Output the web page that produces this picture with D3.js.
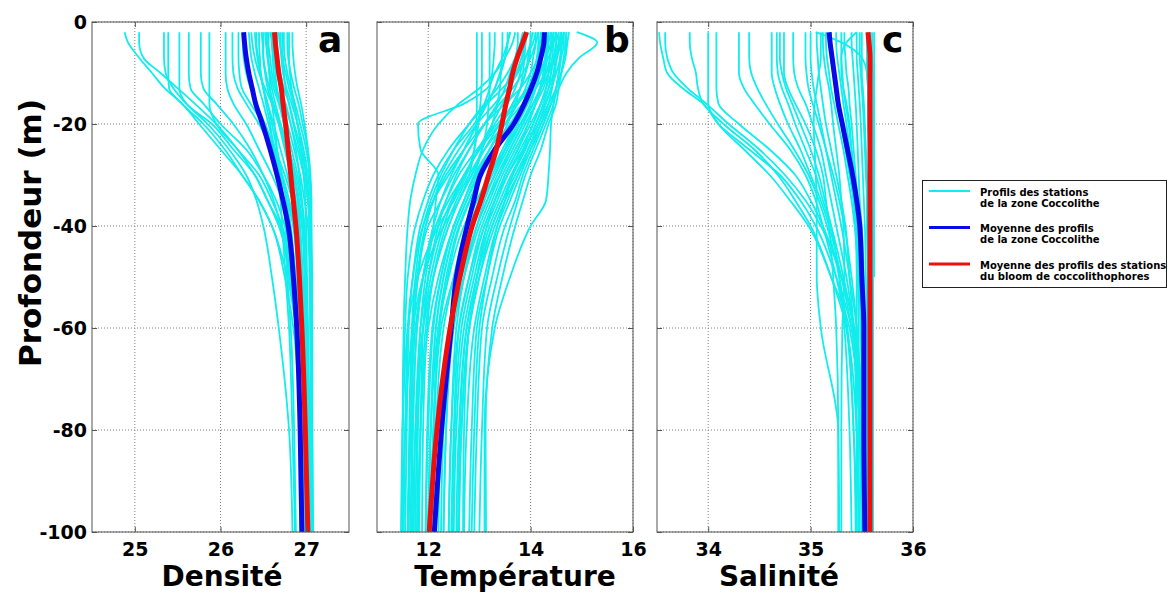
<!DOCTYPE html>
<html>
<head>
<meta charset="utf-8">
<script src="https://d3js.org/d3.v7.min.js"></script>
<style>
body { margin: 0; background: #fff; }
svg { display: block; }
text { font-family: "DejaVu Sans", sans-serif; font-weight: bold; fill: #000; }
</style>
</head>
<body>
<script>
// profondeurs communes a tous les profils (m)
var depths = [-2, -4, -7, -10, -13, -16, -20, -25, -30, -35, -40, -50, -60, -80, -100];
var depthTicks = [0, -20, -40, -60, -80, -100];

var densityTicks = [25, 26, 27];
var tempTicks = [12, 14, 16];
var salTicks = [34, 35, 36];

// densite : profils des stations de la zone Coccolithe
var densityProfiles = [
	[24.88, 24.92, 25.05, 25.2, 25.35, 25.55, 25.75, 26.0, 26.25, 26.45, 26.6, 26.78, 26.88, 26.95, 26.98],
	[25.05, 25.05, 25.1, 25.3, 25.5, 25.7, 25.95, 26.2, 26.4, 26.55, 26.7, 26.82, 26.9, 26.96, 27.0],
	[25.34, 25.34, 25.34, 25.36, 25.45, 25.6, 25.85, 26.1, 26.3, 26.42, 26.5, 26.6, 26.68, 26.8, 26.84],
	[25.39, 25.39, 25.39, 25.39, 25.4, 25.55, 25.8, 26.05, 26.25, 26.45, 26.6, 26.75, 26.85, 26.93, 26.97],
	[25.52, 25.52, 25.52, 25.52, 25.52, 25.6, 25.9, 26.15, 26.4, 26.55, 26.68, 26.82, 26.9, 26.97, 27.0],
	[25.63, 25.63, 25.63, 25.63, 25.65, 25.8, 26.0, 26.3, 26.5, 26.65, 26.75, 26.85, 26.92, 26.98, 27.01],
	[25.77, 25.77, 25.77, 25.77, 25.8, 25.95, 26.15, 26.35, 26.5, 26.62, 26.7, 26.8, 26.88, 26.95, 26.98],
	[25.87, 25.87, 25.87, 25.87, 25.87, 25.87, 25.95, 26.2, 26.45, 26.6, 26.72, 26.84, 26.9, 26.96, 26.99],
	[26.06, 26.06, 26.06, 26.06, 26.08, 26.15, 26.3, 26.45, 26.6, 26.72, 26.8, 26.88, 26.93, 26.98, 27.01],
	[26.14, 26.14, 26.14, 26.15, 26.2, 26.3, 26.45, 26.6, 26.7, 26.78, 26.85, 26.92, 26.96, 27.0, 27.02],
	[26.21, 26.21, 26.21, 26.22, 26.25, 26.35, 26.5, 26.62, 26.72, 26.8, 26.87, 26.93, 26.97, 27.0, 27.03],
	[26.33, 26.34, 26.36, 26.4, 26.45, 26.5, 26.56, 26.64, 26.72, 26.8, 26.85, 26.9, 26.93, 26.96, 26.98],
	[26.42, 26.42, 26.44, 26.47, 26.5, 26.55, 26.62, 26.7, 26.78, 26.84, 26.88, 26.92, 26.95, 26.98, 27.0],
	[26.48, 26.49, 26.5, 26.53, 26.57, 26.62, 26.68, 26.75, 26.82, 26.88, 26.92, 26.95, 26.97, 27.0, 27.02],
	[26.52, 26.53, 26.55, 26.58, 26.62, 26.68, 26.74, 26.8, 26.86, 26.91, 26.95, 26.98, 27.0, 27.02, 27.03],
	[26.56, 26.56, 26.58, 26.6, 26.64, 26.7, 26.76, 26.83, 26.9, 26.95, 26.98, 27.0, 27.02, 27.04, 27.05],
	[26.6, 26.6, 26.61, 26.62, 26.65, 26.7, 26.78, 26.86, 26.93, 26.98, 27.02, 27.04, 27.05, 27.06, 27.07],
	[26.63, 26.63, 26.64, 26.66, 26.7, 26.75, 26.82, 26.9, 26.97, 27.02, 27.04, 27.05, 27.06, 27.07, 27.07],
	[26.66, 26.66, 26.67, 26.7, 26.74, 26.8, 26.86, 26.94, 27.0, 27.03, 27.05, 27.06, 27.06, 27.07, 27.07],
	[26.7, 26.7, 26.71, 26.73, 26.77, 26.83, 26.9, 26.97, 27.02, 27.05, 27.06, 27.06, 27.07, 27.07, 27.08],
	[26.74, 26.74, 26.75, 26.78, 26.82, 26.87, 26.93, 27.0, 27.04, 27.06, 27.06, 27.07, 27.07, 27.07, 27.08],
	[26.78, 26.78, 26.79, 26.82, 26.86, 26.91, 26.96, 27.02, 27.05, 27.06, 27.06, 27.06, 27.07, 27.07, 27.07],
	[26.84, 26.84, 26.85, 26.87, 26.9, 26.94, 26.98, 27.02, 27.04, 27.05, 27.05, 27.05, 27.05, 27.06, 27.06],
	[26.45, 26.45, 26.46, 26.47, 26.5, 26.53, 26.58, 26.62, 26.66, 26.7, 26.72, 26.76, 26.8, 26.84, 26.87],
	[26.55, 26.55, 26.56, 26.57, 26.58, 26.6, 26.63, 26.66, 26.7, 26.73, 26.76, 26.78, 26.82, 26.86, 26.88],
	[26.58, 26.6, 26.62, 26.66, 26.7, 26.76, 26.82, 26.88, 26.92, 26.95, 26.97, 26.99, 27.0, 27.01, 27.02],
	[26.68, 26.69, 26.72, 26.76, 26.8, 26.85, 26.9, 26.94, 26.97, 26.99, 27.0, 27.01, 27.02, 27.03, 27.04],
	[26.36, 26.37, 26.4, 26.45, 26.52, 26.6, 26.7, 26.8, 26.88, 26.94, 26.98, 27.0, 27.01, 27.02, 27.03],
	[26.5, 26.5, 26.5, 26.52, 26.55, 26.6, 26.68, 26.78, 26.86, 26.92, 26.96, 26.99, 27.01, 27.03, 27.04],
	[26.62, 26.62, 26.63, 26.64, 26.66, 26.7, 26.74, 26.8, 26.85, 26.9, 26.93, 26.96, 26.98, 27.0, 27.01],
	[26.72, 26.72, 26.73, 26.74, 26.76, 26.8, 26.85, 26.92, 26.98, 27.02, 27.04, 27.05, 27.06, 27.06, 27.06],
	[26.8, 26.8, 26.8, 26.81, 26.83, 26.86, 26.9, 26.96, 27.0, 27.03, 27.04, 27.05, 27.05, 27.06, 27.06],
	[26.4, 26.41, 26.43, 26.46, 26.5, 26.55, 26.6, 26.66, 26.72, 26.77, 26.82, 26.87, 26.9, 26.92, 26.93],
	[26.54, 26.54, 26.55, 26.57, 26.6, 26.64, 26.7, 26.76, 26.82, 26.87, 26.9, 26.93, 26.95, 26.97, 26.98],
	[26.26, 26.26, 26.27, 26.3, 26.35, 26.42, 26.52, 26.64, 26.75, 26.84, 26.9, 26.96, 27.0, 27.03, 27.05]
];
var densityMeanZone = [26.27, 26.28, 26.3, 26.33, 26.37, 26.41, 26.49, 26.58, 26.66, 26.73, 26.79, 26.85, 26.89, 26.93, 26.95];
var densityMeanBloom = [26.63, 26.64, 26.66, 26.68, 26.71, 26.73, 26.76, 26.79, 26.82, 26.85, 26.88, 26.92, 26.95, 26.99, 27.02];

// temperature : profils des stations de la zone Coccolithe
var tempProfiles = [
	[12.95, 12.95, 12.95, 12.95, 12.95, 12.95, 12.94, 12.9, 12.8, 12.6, 12.3, 11.9, 11.7, 11.55, 11.5],
	[13.05, 13.05, 13.05, 13.05, 13.04, 13.02, 12.98, 12.9, 12.75, 12.5, 12.2, 11.8, 11.6, 11.5, 11.47],
	[13.3, 13.3, 13.28, 13.25, 13.2, 13.1, 12.95, 12.7, 12.4, 12.1, 11.9, 11.7, 11.6, 11.55, 11.52],
	[13.6, 13.55, 13.5, 13.4, 13.3, 13.15, 12.9, 12.5, 12.2, 12.0, 11.85, 11.7, 11.62, 11.58, 11.55],
	[13.75, 13.75, 13.7, 13.6, 13.5, 13.35, 13.1, 12.8, 12.5, 12.25, 12.0, 11.8, 11.7, 11.65, 11.6],
	[13.9, 13.88, 13.85, 13.8, 13.7, 13.55, 13.3, 13.0, 12.7, 12.4, 12.15, 11.9, 11.78, 11.7, 11.65],
	[14.0, 14.0, 13.95, 13.9, 13.8, 13.65, 13.4, 13.1, 12.85, 12.6, 12.4, 12.1, 11.95, 11.85, 11.8],
	[14.1, 14.1, 14.05, 14.0, 13.9, 13.75, 13.5, 13.2, 12.9, 12.7, 12.5, 12.25, 12.1, 12.0, 11.95],
	[14.15, 14.15, 14.12, 14.05, 13.95, 13.85, 13.65, 13.35, 13.05, 12.8, 12.6, 12.35, 12.2, 12.1, 12.05],
	[14.2, 14.2, 14.18, 14.15, 14.05, 13.9, 13.7, 13.45, 13.2, 12.95, 12.75, 12.5, 12.3, 12.15, 12.1],
	[14.25, 14.25, 14.22, 14.18, 14.1, 14.0, 13.8, 13.55, 13.3, 13.05, 12.85, 12.6, 12.4, 12.25, 12.2],
	[14.3, 14.3, 14.28, 14.25, 14.18, 14.05, 13.85, 13.6, 13.35, 13.15, 12.95, 12.7, 12.5, 12.35, 12.3],
	[14.35, 14.35, 14.32, 14.28, 14.2, 14.1, 13.95, 13.7, 13.45, 13.25, 13.05, 12.8, 12.6, 12.45, 12.4],
	[14.4, 14.4, 14.38, 14.35, 14.3, 14.2, 14.05, 13.8, 13.55, 13.35, 13.15, 12.9, 12.7, 12.55, 12.5],
	[14.45, 14.45, 14.42, 14.4, 14.35, 14.25, 14.1, 13.9, 13.65, 13.45, 13.25, 13.0, 12.8, 12.65, 12.6],
	[14.5, 14.5, 14.48, 14.45, 14.4, 14.3, 14.15, 13.95, 13.75, 13.55, 13.35, 13.1, 12.9, 12.75, 12.7],
	[14.55, 14.55, 14.5, 14.48, 14.42, 14.35, 14.2, 14.0, 13.8, 13.6, 13.4, 13.15, 12.95, 12.85, 12.8],
	[14.6, 14.6, 14.58, 14.55, 14.5, 14.4, 14.25, 14.05, 13.85, 13.7, 13.5, 13.25, 13.05, 12.95, 12.9],
	[14.65, 14.65, 14.6, 14.55, 14.5, 14.45, 14.3, 14.1, 13.9, 13.75, 13.6, 13.35, 13.15, 13.05, 13.0],
	[14.7, 14.68, 14.65, 14.6, 14.55, 14.5, 14.35, 14.2, 14.0, 13.85, 13.7, 13.45, 13.25, 13.12, 13.13],
	[14.9, 15.3, 14.95, 14.7, 14.55, 14.4, 14.2, 13.95, 13.7, 13.45, 13.25, 12.95, 12.75, 12.6, 12.55],
	[13.6, 13.55, 13.45, 13.3, 13.15, 12.7, 11.8, 11.85, 12.2, 12.15, 12.1, 11.9, 11.75, 11.65, 11.6],
	[14.1, 14.05, 13.9, 13.7, 13.45, 13.15, 12.8, 12.4, 12.1, 11.9, 11.75, 11.6, 11.55, 11.5, 11.48],
	[14.3, 14.25, 14.15, 14.0, 13.8, 13.5, 13.1, 12.7, 12.35, 12.1, 11.95, 11.78, 11.7, 11.65, 11.62],
	[13.85, 13.8, 13.7, 13.55, 13.35, 13.1, 12.8, 12.5, 12.25, 12.05, 11.9, 11.75, 11.68, 11.63, 11.6],
	[14.45, 14.4, 14.3, 14.15, 13.95, 13.7, 13.35, 12.95, 12.6, 12.35, 12.15, 11.95, 11.85, 11.78, 11.75],
	[14.6, 14.55, 14.45, 14.3, 14.1, 13.85, 13.5, 13.1, 12.8, 12.55, 12.35, 12.1, 11.98, 11.9, 11.88],
	[14.0, 14.0, 13.98, 13.9, 13.8, 13.65, 13.45, 13.2, 12.95, 12.75, 12.55, 12.3, 12.15, 12.05, 12.0],
	[14.25, 14.22, 14.2, 14.15, 14.05, 13.9, 13.7, 13.5, 13.3, 13.1, 12.95, 12.7, 12.55, 12.45, 12.4],
	[14.5, 14.5, 14.45, 14.4, 14.3, 14.2, 14.05, 13.85, 13.65, 13.5, 13.35, 13.15, 13.0, 12.9, 12.85],
	[14.6, 14.6, 14.58, 14.55, 14.5, 14.45, 14.4, 14.38, 14.35, 14.3, 14.0, 13.6, 13.3, 13.1, 13.1],
	[13.2, 13.2, 13.2, 13.2, 13.2, 13.18, 13.15, 13.05, 12.9, 12.7, 12.5, 12.2, 12.0, 11.85, 11.8],
	[13.45, 13.45, 13.44, 13.42, 13.4, 13.35, 13.25, 13.05, 12.85, 12.6, 12.4, 12.1, 11.9, 11.75, 11.7],
	[14.65, 14.6, 14.5, 14.35, 14.2, 14.05, 13.85, 13.6, 13.4, 13.2, 13.0, 12.7, 12.45, 12.3, 12.25],
	[14.4, 14.35, 14.3, 14.2, 14.1, 13.95, 13.75, 13.5, 13.25, 13.0, 12.8, 12.5, 12.25, 12.1, 12.05],
	[14.7, 14.7, 14.65, 14.6, 14.5, 14.4, 14.25, 14.0, 13.75, 13.5, 13.3, 13.0, 12.8, 12.65, 12.6],
	[14.15, 14.1, 14.0, 13.85, 13.65, 13.4, 13.1, 12.8, 12.55, 12.35, 12.2, 12.0, 11.9, 11.85, 11.82],
	[13.95, 13.9, 13.82, 13.72, 13.6, 13.45, 13.25, 12.98, 12.72, 12.48, 12.3, 12.05, 11.9, 11.8, 11.78],
	[14.55, 14.5, 14.45, 14.35, 14.25, 14.1, 13.9, 13.65, 13.4, 13.15, 12.95, 12.65, 12.45, 12.35, 12.3],
	[14.35, 14.33, 14.3, 14.25, 14.2, 14.1, 13.95, 13.75, 13.5, 13.3, 13.1, 12.85, 12.65, 12.52, 12.48],
	[13.7, 13.65, 13.5, 13.3, 13.0, 12.6, 12.2, 11.9, 11.75, 11.65, 11.6, 11.55, 11.52, 11.5, 11.5],
	[14.05, 14.0, 13.9, 13.75, 13.55, 13.3, 12.95, 12.6, 12.3, 12.1, 11.95, 11.8, 11.72, 11.68, 11.66],
	[14.5, 14.45, 14.35, 14.2, 14.0, 13.75, 13.4, 13.0, 12.7, 12.45, 12.25, 12.0, 11.85, 11.75, 11.72],
	[14.75, 14.72, 14.68, 14.6, 14.5, 14.35, 14.15, 13.85, 13.55, 13.3, 13.1, 12.8, 12.6, 12.5, 12.45],
	[14.2, 14.18, 14.15, 14.1, 14.0, 13.85, 13.6, 13.3, 13.0, 12.75, 12.55, 12.3, 12.15, 12.05, 12.0],
	[14.45, 14.42, 14.38, 14.3, 14.2, 14.05, 13.8, 13.5, 13.2, 12.95, 12.7, 12.4, 12.2, 12.05, 12.0],
	[13.55, 13.55, 13.5, 13.42, 13.3, 13.15, 12.95, 12.7, 12.45, 12.25, 12.1, 11.9, 11.78, 11.7, 11.68],
	[14.6, 14.58, 14.52, 14.45, 14.35, 14.2, 14.0, 13.75, 13.5, 13.3, 13.15, 12.95, 12.8, 12.7, 12.68],
	[14.35, 14.3, 14.22, 14.1, 13.95, 13.75, 13.5, 13.2, 12.92, 12.7, 12.5, 12.25, 12.08, 11.98, 11.95],
	[14.65, 14.62, 14.58, 14.5, 14.4, 14.28, 14.1, 13.88, 13.62, 13.4, 13.2, 12.95, 12.75, 12.62, 12.58],
	[13.9, 13.9, 13.88, 13.85, 13.8, 13.7, 13.55, 13.3, 13.05, 12.82, 12.62, 12.38, 12.22, 12.12, 12.1]
];
var tempMeanZone = [14.27, 14.26, 14.2, 14.12, 14.01, 13.88, 13.67, 13.3, 13.02, 12.89, 12.76, 12.55, 12.45, 12.26, 12.12];
var tempMeanBloom = [13.92, 13.85, 13.74, 13.65, 13.59, 13.52, 13.44, 13.33, 13.18, 13.03, 12.86, 12.62, 12.43, 12.17, 12.02];

// salinite : profils des stations de la zone Coccolithe (null = pas de mesure)
var salProfiles = [
	[33.52, 33.53, 33.56, 33.6, 33.75, 33.95, 34.1, 34.4, 34.7, 34.9, 35.05, 35.25, 35.4, 35.5, 35.52],
	[33.58, 33.58, 33.6, 33.66, 33.8, 33.98, 34.2, 34.5, 34.75, 34.95, 35.1, 35.3, 35.42, 35.5, 35.52],
	[33.82, 33.82, 33.84, 33.88, 33.9, 33.95, 34.15, 34.45, 34.68, 34.85, 35.0, 35.2, 35.35, 35.45, 35.48],
	[34.0, 34.0, 34.0, 34.0, 34.0, 34.0, 34.1, 34.35, 34.6, 34.8, 34.98, 35.2, 35.38, 35.48, 35.5],
	[34.08, 34.08, 34.08, 34.08, 34.08, 34.1, 34.3, 34.6, 34.85, 35.0, 35.12, 35.3, 35.43, 35.52, 35.54],
	[34.3, 34.3, 34.3, 34.3, 34.35, 34.45, 34.6, 34.8, 34.95, 35.05, 35.12, 35.25, 35.35, 35.42, 35.45],
	[34.62, 34.62, 34.62, 34.62, 34.65, 34.7, 34.78, 34.9, 35.0, 35.1, 35.18, 35.3, 35.4, 35.48, 35.5],
	[34.67, 34.67, 34.67, 34.68, 34.72, 34.78, 34.85, 34.95, 35.05, 35.12, 35.2, 35.32, 35.42, 35.5, 35.52],
	[34.74, 34.74, 34.74, 34.74, 34.78, 34.85, 34.95, 35.05, 35.12, 35.15, 35.18, 35.22, 35.25, 35.27, 35.27],
	[34.83, 34.83, 34.83, 34.84, 34.88, 34.95, 35.02, 35.1, 35.15, 35.2, 35.25, 35.35, 35.42, 35.5, 35.52],
	[35.0, 35.0, 35.0, 35.01, 35.03, 35.06, 35.1, 35.15, 35.2, 35.25, 35.3, 35.38, 35.45, 35.5, 35.52],
	[35.06, 35.06, 35.07, 35.08, 35.1, 35.12, 35.15, 35.2, 35.25, 35.3, 35.34, 35.38, 35.42, 35.45, 35.47],
	[35.1, 35.1, 35.1, 35.08, 35.06, 35.04, 35.03, 35.04, 35.05, 35.06, 35.06, 35.06, 35.1, 35.27, 35.28],
	[35.12, 35.12, 35.13, 35.15, 35.18, 35.2, 35.22, 35.25, 35.28, 35.3, 35.32, 35.33, 35.31, 35.3, 35.3],
	[35.25, 35.25, 35.26, 35.28, 35.3, 35.32, 35.35, 35.38, 35.4, 35.42, 35.44, 35.46, 35.47, 35.47, 35.47],
	[35.33, 35.33, 35.34, 35.35, 35.37, 35.38, 35.4, 35.42, 35.44, 35.46, 35.48, 35.5, 35.51, 35.52, 35.52],
	[35.4, 35.4, 35.41, 35.42, 35.43, 35.44, 35.45, 35.46, 35.47, 35.48, 35.5, 35.52, 35.53, 35.54, 35.54],
	[35.45, 35.45, 35.45, 35.46, 35.47, 35.48, 35.49, 35.5, 35.51, 35.52, 35.53, 35.54, 35.55, 35.55, 35.55],
	[35.5, 35.5, 35.5, 35.5, 35.51, 35.52, 35.53, 35.54, 35.55, 35.56, 35.56, 35.57, 35.57, 35.57, 35.57],
	[35.55, 35.55, 35.55, 35.55, 35.56, 35.56, 35.57, 35.57, 35.58, 35.58, 35.58, 35.58, 35.58, 35.58, 35.58],
	[35.6, 35.6, 35.6, 35.61, 35.61, 35.61, 35.61, 35.61, 35.61, 35.61, 35.61, 35.61, 35.61, 35.61, 35.61],
	[35.62, 35.62, 35.62, 35.62, 35.62, 35.62, 35.62, 35.62, 35.62, 35.62, 35.62, 35.62, null, null, null],
	[35.05, 35.3, 35.5, 35.55, 35.56, 35.56, 35.56, 35.57, 35.57, 35.57, 35.57, 35.57, 35.57, 35.58, 35.58],
	[35.45, 35.35, 35.3, 35.3, 35.32, 35.35, 35.38, 35.4, 35.42, 35.43, 35.44, 35.45, 35.45, 35.45, 35.45],
	[34.95, 34.95, 34.95, 34.96, 34.98, 35.02, 35.08, 35.15, 35.22, 35.28, 35.33, 35.4, 35.45, 35.48, 35.5],
	[34.7, 34.7, 34.7, 34.72, 34.76, 34.82, 34.9, 35.0, 35.08, 35.14, 35.2, 35.28, 35.33, 35.38, 35.4],
	[35.2, 35.2, 35.2, 35.22, 35.24, 35.27, 35.3, 35.34, 35.38, 35.42, 35.45, 35.48, 35.5, 35.52, 35.53],
	[35.3, 35.3, 35.3, 35.31, 35.32, 35.34, 35.37, 35.4, 35.43, 35.46, 35.48, 35.5, 35.51, 35.52, 35.52],
	[35.48, 35.48, 35.48, 35.49, 35.5, 35.51, 35.52, 35.53, 35.54, 35.55, 35.55, 35.56, 35.56, 35.56, 35.56],
	[34.4, 34.4, 34.4, 34.42, 34.48, 34.56, 34.68, 34.84, 34.98, 35.08, 35.16, 35.28, 35.36, 35.42, 35.44],
	[35.15, 35.15, 35.16, 35.18, 35.2, 35.23, 35.27, 35.32, 35.36, 35.4, 35.43, 35.47, 35.49, 35.5, 35.5],
	[35.58, 35.58, 35.58, 35.58, 35.58, 35.59, 35.59, 35.59, 35.59, 35.59, 35.6, 35.6, 35.6, 35.6, 35.6]
];
var salMeanZone = [35.18, 35.19, 35.21, 35.23, 35.25, 35.27, 35.31, 35.36, 35.41, 35.45, 35.48, 35.5, 35.52, 35.52, 35.53];
var salMeanBloom = [35.56, 35.57, 35.58, 35.58, 35.58, 35.58, 35.58, 35.58, 35.58, 35.58, 35.58, 35.58, 35.58, 35.58, 35.58];

var legendLabels = [
	["Profils des stations", "de la zone Coccolithe"],
	["Moyenne des profils", "de la zone Coccolithe"],
	["Moyenne des profils des stations", "du bloom de coccolithophores"]
];

var cyanColor = "#12ecec";
var blueColor = "#0a0ae6";
var redColor = "#f20d0d";
var frameColor = "#555";

window.onload = function() {
	makeChart();
};

/**
* dessine les trois panneaux et la legende
**/
function makeChart() {

	var svg = d3.select("body")
				.append("svg")
				.attr("width", 1168)
				.attr("height", 595);

	var top = 22, bottom = 532;

	var yScale = d3.scaleLinear()
					.domain([-100, 0])
					.range([bottom, top]);

	// layout des panneaux
	var panels = [
		{id: "a", left: 92, right: 349, domain: [24.5, 27.5], ticks: densityTicks, title: "Densité", titleX: 222,
		 profiles: densityProfiles, zone: densityMeanZone, bloom: densityMeanBloom, letterX: 318},
		{id: "b", left: 377, right: 633, domain: [11, 16], ticks: tempTicks, title: "Température", titleX: 515,
		 profiles: tempProfiles, zone: tempMeanZone, bloom: tempMeanBloom, letterX: 604},
		{id: "c", left: 657, right: 913, domain: [33.5, 36], ticks: salTicks, title: "Salinité", titleX: 779,
		 profiles: salProfiles, zone: salMeanZone, bloom: salMeanBloom, letterX: 882}
	];

	// format simple avec tiret ascii
	var plain = function(d) { return String(d); };

	panels.forEach(function(p, i) {

		var xScale = d3.scaleLinear()
						.domain(p.domain)
						.range([p.left, p.right]);

		var g = svg.append("g");

		// clip
		g.append("clipPath")
		 .attr("id", "clip-" + p.id)
		 .append("rect")
		 .attr("x", p.left)
		 .attr("y", top)
		 .attr("width", p.right - p.left)
		 .attr("height", bottom - top);

		// grille pointillee
		g.selectAll(".vgrid")
		 .data(p.ticks)
		 .enter()
		 .append("line")
		 .attr("x1", function(d) { return xScale(d); })
		 .attr("x2", function(d) { return xScale(d); })
		 .attr("y1", top)
		 .attr("y2", bottom)
		 .attr("stroke", "#808080")
		 .attr("stroke-width", 1)
		 .attr("stroke-dasharray", "1,2");

		g.selectAll(".hgrid")
		 .data(depthTicks)
		 .enter()
		 .append("line")
		 .attr("x1", p.left)
		 .attr("x2", p.right)
		 .attr("y1", function(d) { return yScale(d); })
		 .attr("y2", function(d) { return yScale(d); })
		 .attr("stroke", "#808080")
		 .attr("stroke-width", 1)
		 .attr("stroke-dasharray", "1,2");

		var line = d3.line()
					 .defined(function(d) { return d[0] != null; })
					 .x(function(d) { return xScale(d[0]); })
					 .y(function(d) { return yScale(d[1]); })
					 .curve(d3.curveMonotoneY);

		function pairs(values) {
			return values.map(function(v, k) { return [v, depths[k]]; });
		}

		var plot = g.append("g").attr("clip-path", "url(#clip-" + p.id + ")");

		// profils des stations
		plot.selectAll(".profile")
			.data(p.profiles)
			.enter()
			.append("path")
			.attr("d", function(d) { return line(pairs(d)); })
			.attr("fill", "none")
			.attr("stroke", cyanColor)
			.attr("stroke-width", 1.8);

		// moyenne zone Coccolithe
		plot.append("path")
			.attr("d", line(pairs(p.zone)))
			.attr("fill", "none")
			.attr("stroke", blueColor)
			.attr("stroke-width", 5);

		// moyenne bloom
		plot.append("path")
			.attr("d", line(pairs(p.bloom)))
			.attr("fill", "none")
			.attr("stroke", redColor)
			.attr("stroke-width", 5);

		// axes (ticks vers l'interieur)
		var xAxis = g.append("g")
					 .attr("transform", "translate(0," + bottom + ")")
					 .call(d3.axisBottom(xScale).tickValues(p.ticks).tickSize(-5).tickPadding(11).tickFormat(plain));
		xAxis.select(".domain").remove();
		xAxis.selectAll("text").style("font-size", "19px").attr("font-family", null);

		var xTop = g.append("g")
					.attr("transform", "translate(0," + top + ")")
					.call(d3.axisTop(xScale).tickValues(p.ticks).tickSize(-5).tickFormat(""));
		xTop.select(".domain").remove();

		var yLeft = g.append("g")
					 .attr("transform", "translate(" + p.left + ",0)")
					 .call(d3.axisLeft(yScale).tickValues(depthTicks).tickSize(-5).tickPadding(5)
					 .tickFormat(i == 0 ? plain : ""));
		yLeft.select(".domain").remove();
		yLeft.selectAll("text").style("font-size", "19px").attr("font-family", null);

		var yRight = g.append("g")
					  .attr("transform", "translate(" + p.right + ",0)")
					  .call(d3.axisRight(yScale).tickValues(depthTicks).tickSize(-5).tickFormat(""));
		yRight.select(".domain").remove();

		g.selectAll(".tick line").attr("stroke", frameColor);

		// cadre
		g.append("rect")
		 .attr("x", p.left)
		 .attr("y", top)
		 .attr("width", p.right - p.left)
		 .attr("height", bottom - top)
		 .attr("fill", "none")
		 .attr("stroke", frameColor)
		 .attr("stroke-width", 1);

		// lettre du panneau
		g.append("text")
		 .attr("x", p.letterX)
		 .attr("y", 52)
		 .style("font-size", "36px")
		 .text(p.id);

		// titre de l'axe x
		g.append("text")
		 .attr("x", p.titleX)
		 .attr("y", 586)
		 .style("text-anchor", "middle")
		 .style("font-size", "28px")
		 .text(p.title);
	});

	// titre de l'axe y
	svg.append("text")
	   .attr("transform", "translate(41," + 233 + ") rotate(-90)")
	   .style("text-anchor", "middle")
	   .style("font-size", "31px")
	   .text("Profondeur (m)");

	// legende
	var legend = svg.append("g");

	legend.append("rect")
		  .attr("x", 922.5)
		  .attr("y", 180.5)
		  .attr("width", 244)
		  .attr("height", 107)
		  .attr("fill", "#fff")
		  .attr("stroke", "#222")
		  .attr("stroke-width", 1);

	var colors = [cyanColor, blueColor, redColor];
	var widths = [2, 3, 3];

	legendLabels.forEach(function(lab, k) {
		var y0 = 191 + k * 36.5;
		legend.append("line")
			  .attr("x1", 929)
			  .attr("x2", 970)
			  .attr("y1", y0)
			  .attr("y2", y0)
			  .attr("stroke", colors[k])
			  .attr("stroke-width", widths[k]);

		legend.selectAll(".lab" + k)
			  .data(lab)
			  .enter()
			  .append("text")
			  .attr("x", 980)
			  .attr("y", function(d, j) { return y0 + 4.5 + j * 11.3; })
			  .style("font-size", "10px")
			  .text(function(d) { return d; });
	});
};
</script>
</body>
</html>
